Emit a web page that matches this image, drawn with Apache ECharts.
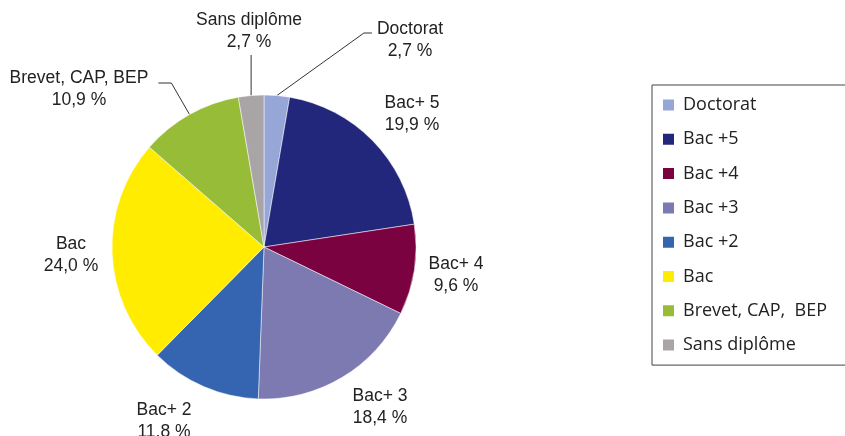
<!DOCTYPE html>
<html>
<head>
<meta charset="utf-8">
<title>Diplômes</title>
<script src="https://cdn.jsdelivr.net/npm/echarts@6/dist/echarts.min.js"></script>
<style>
    html, body { margin: 0; padding: 0; background: #fff; }
    #main { width: 845px; height: 436px; }
</style>
</head>
<body>
<div id="main"></div>

<script>
    // donnees
    var categories = ['Doctorat', 'Bac +5', 'Bac +4', 'Bac +3', 'Bac +2', 'Bac', 'Brevet, CAP,  BEP', 'Sans diplôme'];
    var labelNames = ['Doctorat', 'Bac+ 5', 'Bac+ 4', 'Bac+ 3', 'Bac+ 2', 'Bac', 'Brevet, CAP, BEP', 'Sans diplôme'];
    var values = [2.7, 19.9, 9.6, 18.4, 11.8, 24.0, 10.9, 2.7];
    var colors = ['#95a6d7', '#23277b', '#7a0241', '#7d79b1', '#3564b0', '#ffec00', '#97bd38', '#a9a5a6'];

    // position des etiquettes (centre du bloc de texte)
    var labelPos = [[410, 40], [412, 114], [456, 275], [380, 407], [164, 421], [71, 255], [79, 89], [249, 31]];
    var withLine = [true, false, false, false, false, false, true, true];

    var myChart = echarts.init(document.getElementById('main'));

    var pieData = [];
    for (var i = 0; i < values.length; i++) {
        pieData.push({
            name: categories[i],
            value: values[i],
            itemStyle: { color: colors[i] },
            labelLine: { show: withLine[i] }
        });
    }

    option = {
        animation: false,
        legend: {
            orient: 'vertical',
            left: 652,
            top: 85,
            data: categories,
            icon: 'rect',
            itemWidth: 13,
            itemHeight: 13,
            itemGap: 14.3,
            padding: [10, 200, 10, 9],
            borderColor: '#444',
            borderWidth: 1,
            selectedMode: false,
            textStyle: {
                fontFamily: 'Open Sans',
                fontSize: 18,
                lineHeight: 20,
                color: '#222',
                padding: [0, 0, 0, 3]
            }
        },
        series: [{
            type: 'pie',
            center: [264, 247],
            radius: 152,
            startAngle: 90,
            clockwise: true,
            avoidLabelOverlap: false,
            data: pieData,
            itemStyle: { borderColor: '#fff', borderWidth: 0.5 },
            label: {
                show: true,
                position: 'outside',
                fontFamily: 'Liberation Sans',
                fontSize: 17.5,
                lineHeight: 22,
                color: '#222',
                formatter: function (p) {
                    return labelNames[p.dataIndex] + '\n' + values[p.dataIndex].toFixed(1).replace('.', ',') + ' %';
                }
            },
            labelLine: {
                show: true,
                lineStyle: { color: '#333', width: 1 }
            },
            emphasis: { disabled: true },
            labelLayout: function (params) {
                var i = params.dataIndex;
                var x = labelPos[i][0], y = labelPos[i][1];
                var w = params.labelRect.width, h = params.labelRect.height;
                var res = { x: x, y: y, align: 'center', verticalAlign: 'middle' };
                var pts = params.labelLinePoints;
                if (pts && withLine[i]) {
                    var p0 = pts[0];
                    if (i === 0) {
                        var left = x - w / 2;
                        res.labelLinePoints = [p0, [left - 13, y - 7], [left - 5, y - 7]];
                    } else if (i === 6) {
                        var right = x + w / 2;
                        res.labelLinePoints = [p0, [right + 23, y - 6], [right + 10, y - 6]];
                    } else {
                        res.labelLinePoints = [p0, [p0[0], y + h / 2 + 2], [p0[0], y + h / 2 + 2]];
                    }
                }
                return res;
            }
        }]
    };

    myChart.setOption(option);
</script>
</body>
</html>
